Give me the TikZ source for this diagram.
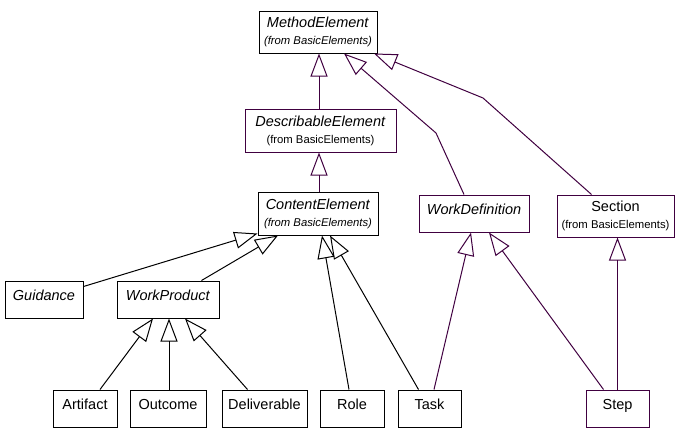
\documentclass[tikz,border=0pt]{standalone}
\usepackage{fontspec}
\setmainfont{Liberation Sans}
\usepackage{tikz}
\usetikzlibrary{arrows.meta}

\definecolor{umlpurple}{RGB}{64,0,64}
\newcommand{\fromBE}[1][]{\\{#1\fontsize{11.3}{13}\selectfont (from BasicElements)}}

\begin{document}
\begin{tikzpicture}[x=1pt,y=-1pt,
    cls/.style={draw, fill=white, inner sep=0pt, line width=1pt, align=center,
      font=\fontsize{14.5}{17}\selectfont},
    one/.style={cls, minimum height=37pt, text height=19pt, text depth=18pt},
    two/.style={cls, minimum height=42pt},
    pbox/.style={draw=umlpurple},
    gen/.style={line width=1pt, -{Triangle[open, length=23pt, width=17pt]}}]
    \useasboundingbox (0,0) rectangle (682,442);

    % classes from BasicElements
    \node[two, minimum width=118pt] (method) at (318,32) {\textit{MethodElement}\fromBE[\itshape]};
    \node[two, pbox, minimum width=151pt, minimum height=43pt] (describ) at (320.5,130.5) {\textit{DescribableElement}\fromBE};
    \node[two, minimum width=120pt, minimum height=43pt] (content) at (318,213.5) {\textit{ContentElement}\fromBE[\itshape]};
    \node[two, pbox, minimum width=117pt] (section) at (615.5,216) {Section\fromBE};

    % method content classes
    \node[one, pbox, minimum width=110pt] (workdef) at (474,213.5) {\textit{WorkDefinition}};
    \node[one, minimum width=78pt] (guidance) at (44,299.5) {\textit{Guidance}};
    \node[one, minimum width=102pt] (workprod) at (168,299.5) {\textit{WorkProduct}};
    \node[one, minimum width=64pt] (artifact) at (85,408.5) {Artifact};
    \node[one, minimum width=76pt] (outcome) at (168,408.5) {Outcome};
    \node[one, minimum width=85pt] (deliv) at (264.5,408.5) {Deliverable};
    \node[one, minimum width=64pt] (role) at (352,408.5) {Role};
    \node[one, minimum width=63pt] (task) at (429.5,408.5) {Task};
    \node[one, pbox, minimum width=63pt] (step) at (617.5,408.5) {Step};

    \coordinate (wdbend) at (436,133);% bend of WorkDefinition line
    \coordinate (secbend) at (483,98);% bend of Section line

    % generalisations
    \draw[gen, umlpurple] ([xshift=-1.5pt]describ.north) -- ([xshift=1pt]method.south);
    \draw[gen, umlpurple] ([xshift=1pt]content.north) -- ([xshift=-1.5pt]describ.south);
    \draw[gen, umlpurple] ([xshift=-10pt]workdef.north) -- (wdbend) -- ([xshift=26pt]method.south);
    \draw[gen, umlpurple] ([xshift=-24pt]section.north) -- (secbend) -- ([xshift=56pt]method.south);
    \draw[gen] ([yshift=-6pt]guidance.north east) -- ([yshift=2pt]content.south west);
    \draw[gen] ([xshift=33.5pt]workprod.north) -- ([xshift=-40pt]content.south);
    \draw[gen] ([xshift=-3pt]role.north) -- ([xshift=4pt]content.south);
    \draw[gen] ([xshift=-11pt]task.north) -- ([xshift=12pt]content.south);
    \draw[gen] ([xshift=15pt]artifact.north) -- ([xshift=-15pt]workprod.south);
    \draw[gen] ([xshift=1pt]outcome.north) -- ([xshift=1pt]workprod.south);
    \draw[gen] ([xshift=-17pt]deliv.north) -- ([xshift=17pt]workprod.south);
    \draw[gen, umlpurple] ([xshift=4.5pt]task.north) -- ([xshift=-3pt]workdef.south);
    \draw[gen, umlpurple] ([xshift=-14pt]step.north) -- ([xshift=15pt]workdef.south);
    \draw[gen, umlpurple] (step.north) -- (step.north |- section.south);

\end{tikzpicture}
\end{document}
